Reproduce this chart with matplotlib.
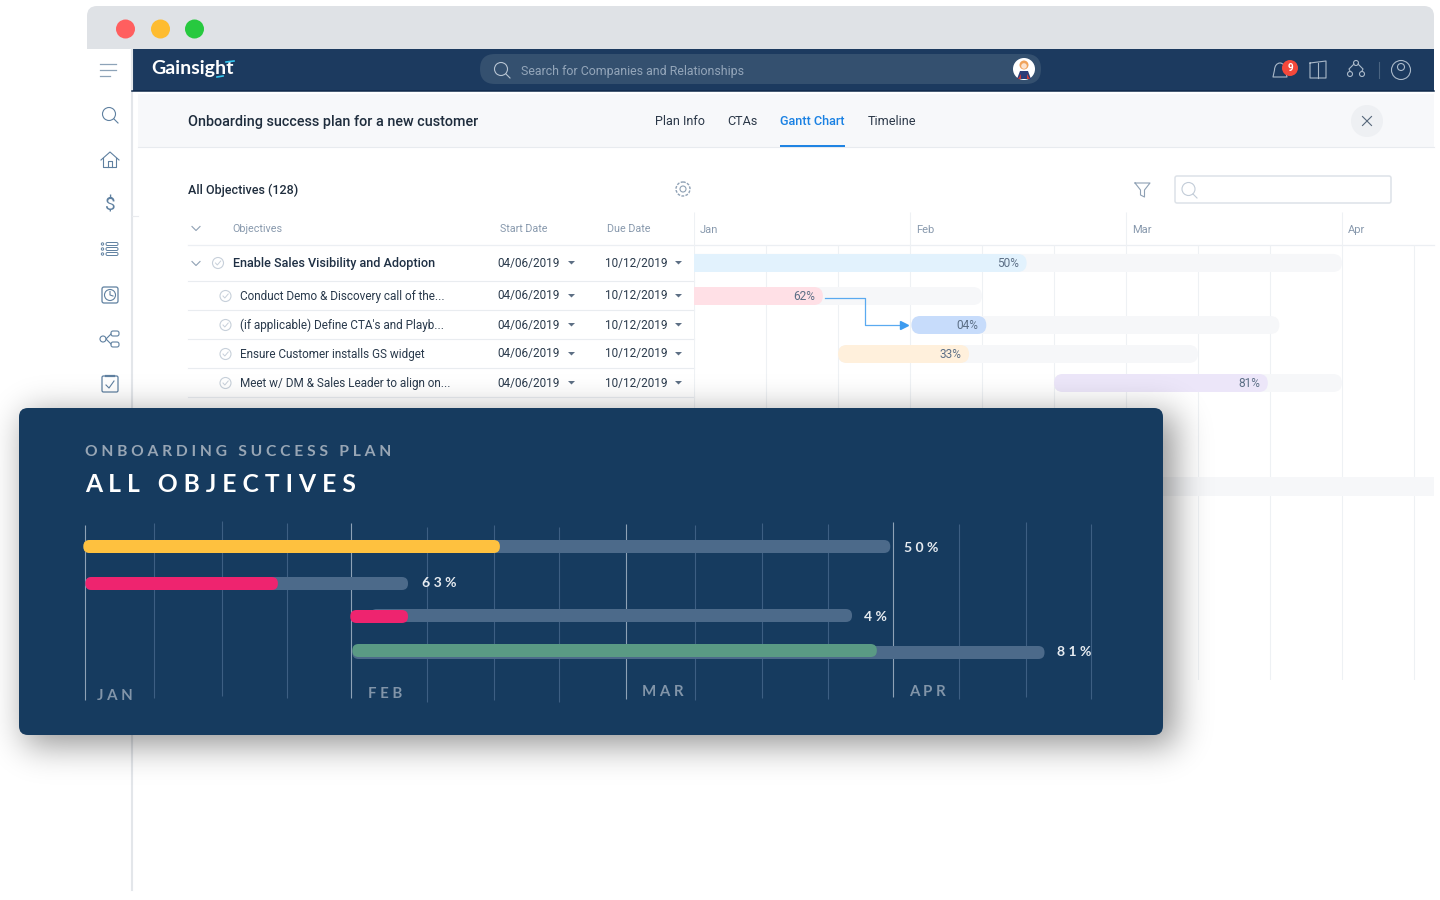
import math
import numpy as np
import matplotlib
matplotlib.use("Agg")
import matplotlib.pyplot as plt
from matplotlib.patches import FancyBboxPatch, Circle, Polygon, Rectangle, Arc

# ---------- data ----------
row_names = ["Enable Sales Visibility and Adoption", "Conduct Demo & Discovery call of the...",
             "(if applicable) Define CTA's and Playb...", "Ensure Customer installs GS widget",
             "Meet w/ DM & Sales Leader to align on..."]
start_dates = ["04/06/2019"] * 5
due_dates = ["10/12/2019"] * 5
gantt_months = ["Jan", "Feb", "Mar", "Apr"]
gantt_labels = ["50%", "62%", "04%", "33%", "81%"]
# gantt values are measured in calendar columns (three per month)
gantt_start = [0.0, 0.0, 3.02, 2.0, 5.0]
gantt_end = [9.0, 4.0, 8.13, 7.0, 9.0]
gantt_done = [4.62, 1.79, 4.06, 3.82, 7.97]
gantt_colors = ["#e2f2fd", "#ffe0e6", "#c7dcfb", "#fff0dc", "#ece6f9"]

# summary-panel values are measured in weeks from January
panel_months = ["JAN", "FEB", "MAR", "APR"]
panel_month_pos = [0.18, 4.22, 8.3, 12.28]
panel_grid = [0, 1.03, 2.03, 3.0, 3.96, 5.09, 6.09, 7.06, 8.06, 9.09, 10.09, 11.07, 12.04, 13.03, 14.03, 15.0]
panel_start = [-0.03, 0.0, 4.25, 3.98]
panel_end = [12.0, 4.81, 11.43, 14.3]
panel_done_start = [-0.03, 0.0, 3.95, 3.98]
panel_done = [6.18, 2.87, 4.81, 11.8]
panel_labels = ["50%", "63%", "4%", "81%"]
panel_colors = ["#fec13f", "#ee246f", "#ee246f", "#5a9a84"]

tabs = ["Plan Info", "CTAs", "Gantt Chart", "Timeline"]

# ---------- style ----------
FONT = ["Roboto", "DejaVu Sans"]
plt.rcParams["font.family"] = FONT
fig = plt.figure(figsize=(14.4, 9), dpi=100, facecolor="white")


def full_axes(z):
    a = fig.add_axes([0, 0, 1, 1], zorder=z)
    a.set_xlim(0, 1440)
    a.set_ylim(900, 0)
    a.axis("off")
    return a


def px_axes(x0, x1, y0, y1, z):
    a = fig.add_axes([x0 / 1440, 1 - y1 / 900, (x1 - x0) / 1440, (y1 - y0) / 900], zorder=z)
    a.patch.set_alpha(0)
    a.axis("off")
    return a


def rrect(a, x0, y0, x1, y1, r, color, z=1, ec="none", lw=0):
    p = FancyBboxPatch((x0, y0), x1 - x0, y1 - y0, boxstyle=f"round,pad=0,rounding_size={r}",
                       fc=color, ec=ec, lw=lw, zorder=z)
    a.add_patch(p)
    return p


def T(a, x, y, s, size, color, ha="left", weight="normal", family=None, z=5):
    return a.text(x, y + 1, s, fontsize=size * 0.72, color=color, ha=ha, va="center", weight=weight,
                  family=family or FONT, zorder=z)


bg = full_axes(0)
# ---------- window chrome ----------
rrect(bg, 87, 6, 1434, 60, 10, "#dfe2e6", 1)
bg.add_patch(Rectangle((87, 49), 1347, 14, fc="white", ec="none", zorder=1.5))
for cx, c in zip((125.5, 160.5, 194.5), ("#ff5f5f", "#febc30", "#27c93f")):
    bg.add_patch(Circle((cx, 29), 9.5, fc=c, ec="none", zorder=2))
bg.add_patch(Rectangle((132, 49), 1302, 42, fc="#1c3a5f", ec="none", zorder=2))
bg.plot([132, 1434], [91, 91], color="#10294a", lw=1.1, zorder=3)
bg.plot([132, 132], [49, 890], color="#e3e6ea", lw=1.5, zorder=2)
bg.plot([132, 138], [216, 216], color="#e9ebee", lw=0.8, zorder=2)
bg.add_patch(Rectangle((138, 94), 1296, 53, fc="#f7f8fa", ec="none", zorder=2))
bg.plot([138, 1434], [147, 147], color="#e8ebef", lw=0.8, zorder=3)

# logo and search
T(bg, 151.5, 67.5, "Gainsight", 19.5, "white", weight="bold", family=["Lato", "DejaVu Sans"])
bg.plot([226, 234], [62, 61], color="#35c6ef", lw=1.2, zorder=6)
bg.plot([217, 223], [77, 76], color="#35c6ef", lw=1.2, zorder=6)
rrect(bg, 480, 54, 1041, 84, 15, "#34506f", 3)
bg.add_patch(Circle((501, 69), 6.5, fc="none", ec="#b7c4d2", lw=0.8, zorder=4))
bg.plot([506, 510], [74, 78], color="#b7c4d2", lw=0.8, zorder=4)
T(bg, 521, 70, "Search for Companies and Relationships", 12.4, "#94a6ba")
bg.add_patch(Circle((1024, 69), 11, fc="white", ec="none", zorder=4))
bg.add_patch(Circle((1024, 65), 4.5, fc="#f0a35a", ec="none", zorder=5))
bg.add_patch(Circle((1024, 66), 2.8, fc="#fbe3cf", ec="none", zorder=5.5))
bg.add_patch(Polygon([(1017, 79), (1031, 79), (1028, 71), (1020, 71)], fc="#2b3d78", ec="none", zorder=5))
bg.add_patch(Polygon([(1018, 79), (1021, 79), (1021, 74)], fc="#c83a3a", ec="none", zorder=5.5))
bg.add_patch(Polygon([(1030, 79), (1027, 79), (1027, 74)], fc="#c83a3a", ec="none", zorder=5.5))

# header icons
ICON = "#aab9c9"
bg.add_patch(Arc((1280, 70), 11, 14, theta1=180, theta2=360, color=ICON, lw=0.8, zorder=4))
bg.plot([1274.5, 1273, 1287, 1285.5], [70, 77, 77, 70], color=ICON, lw=0.8, zorder=4)
bg.add_patch(Circle((1290, 68), 8, fc="#f4483b", ec="none", zorder=5))
T(bg, 1290, 67, "9", 10, "white", ha="center", weight="bold", z=6)
bg.plot([1310, 1310, 1326, 1326, 1310], [63, 78, 78, 61, 63], color=ICON, lw=0.8, zorder=4)
bg.plot([1318, 1318], [63, 78], color=ICON, lw=0.8, zorder=4)
for cx, cy, r in ((1356, 63, 2.5), (1350, 74, 2.5), (1362, 74, 2.5)):
    bg.add_patch(Circle((cx, cy), r, fc="none", ec=ICON, lw=0.8, zorder=4))
bg.plot([1354, 1349, 1350], [64, 69, 71], color=ICON, lw=0.8, zorder=4)
bg.plot([1358, 1363, 1362], [64, 69, 71], color=ICON, lw=0.8, zorder=4)
bg.plot([1379, 1379], [62, 78], color="#4a6482", lw=0.8, zorder=4)
bg.add_patch(Circle((1401, 70), 9.5, fc="none", ec=ICON, lw=0.8, zorder=4))
bg.add_patch(Circle((1401, 67), 3.5, fc="none", ec=ICON, lw=0.8, zorder=4))

# sidebar icons
SIDE = "#5f80a0"
for y, w in ((64, 16), (70, 16), (76, 10)):
    bg.plot([100, 100 + w], [y, y], color="#8da3b8", lw=0.9, zorder=3)
bg.add_patch(Circle((109, 114), 6.5, fc="none", ec=SIDE, lw=0.8, zorder=3))
bg.plot([114, 118], [119, 123], color=SIDE, lw=0.8, zorder=3)
bg.plot([101, 110, 119], [160, 152, 160], color=SIDE, lw=0.8, zorder=3)
bg.plot([103, 103, 116, 116], [158, 167, 167, 158], color=SIDE, lw=0.8, zorder=3)
bg.plot([108, 108, 112, 112], [167, 161, 161, 167], color=SIDE, lw=0.8, zorder=3)
T(bg, 110, 205, "$", 19, SIDE, ha="center")
for yy in (244, 249, 254):
    rrect(bg, 106, yy - 1.5, 118, yy + 1.5, 1.4, "none", 3, ec=SIDE, lw=0.7)
    bg.add_patch(Circle((102.5, yy), 1.2, fc="none", ec=SIDE, lw=0.7, zorder=3))
rrect(bg, 102, 287, 118, 303, 2, "none", 3, ec=SIDE, lw=0.9)
bg.add_patch(Circle((110, 295), 5.5, fc="none", ec=SIDE, lw=0.8, zorder=3))
bg.plot([110, 110, 113], [291.5, 295, 296], color=SIDE, lw=0.8, zorder=3)
bg.add_patch(Circle((103, 339), 3, fc="none", ec=SIDE, lw=0.8, zorder=3))
rrect(bg, 111, 331, 119, 336, 2, "none", 3, ec=SIDE, lw=0.8)
rrect(bg, 111, 342, 119, 347, 2, "none", 3, ec=SIDE, lw=0.8)
bg.plot([111, 106, 111], [334, 339, 344], color=SIDE, lw=0.8, zorder=3)
rrect(bg, 102, 376, 118, 392, 1.5, "none", 3, ec=SIDE, lw=0.9)
bg.plot([106, 109, 114], [385, 388, 381], color=SIDE, lw=0.8, zorder=3)
bg.plot([106, 114], [376, 376], color=SIDE, lw=1.6, zorder=3)

# page heading and tabs
T(bg, 187.5, 121, "Onboarding success plan for a new customer", 14.35, "#1f2d3d", weight="medium")
for x, s in zip((655, 727.5, 780, 868), tabs):
    T(bg, x, 120.5, s, 12.6, "#1a81e3" if s == "Gantt Chart" else "#2b3848",
      weight="medium" if s == "Gantt Chart" else "normal")
bg.plot([780, 845], [146, 146], color="#1a81e3", lw=1.4, zorder=4, solid_capstyle="butt")
bg.add_patch(Circle((1367, 121), 16, fc="#eef0f3", ec="none", zorder=3))
bg.plot([1362.5, 1371.5], [116.5, 125.5], color="#56677a", lw=0.8, zorder=4)
bg.plot([1362.5, 1371.5], [125.5, 116.5], color="#56677a", lw=0.8, zorder=4)

# toolbar
T(bg, 187.5, 189, "All Objectives (128)", 12.5, "#1f2d3d", weight="medium")
bg.add_patch(Circle((683, 189), 7, fc="none", ec="#8ea0b4", lw=1.0, ls=(0, (2, 1)), zorder=3))
bg.add_patch(Circle((683, 189), 3, fc="none", ec="#8ea0b4", lw=0.8, zorder=3))
bg.plot([1135, 1150, 1144.5, 1144.5, 1140.5, 1140.5, 1135], [183, 183, 190, 197, 195, 190, 183],
        color="#8ea0b4", lw=0.8, zorder=3)
rrect(bg, 1175, 176, 1391, 203, 2, "white", 3, ec="#dde2e8", lw=1.1)
bg.add_patch(Circle((1188.5, 189), 6.5, fc="none", ec="#c2ccd8", lw=0.8, zorder=4))
bg.plot([1193, 1197], [194, 198], color="#c2ccd8", lw=0.8, zorder=4)

# table
HEAD = "#8899ad"
T(bg, 232.5, 227.5, "Objectives", 10.8, HEAD)
T(bg, 500, 227.5, "Start Date", 10.8, HEAD)
T(bg, 607, 227.5, "Due Date", 10.8, HEAD)
bg.plot([192, 196, 200], [226.5, 230.5, 226.5], color="#8ea0b4", lw=0.8, zorder=3)
bg.plot([192, 196, 200], [261.5, 265.5, 261.5], color="#8ea0b4", lw=0.8, zorder=3)
bg.plot([188, 1434], [245, 245], color="#eceff3", lw=0.9, zorder=2)
for y in (281, 310, 339, 368, 397):
    bg.plot([188, 694], [y - 0.5, y - 0.5], color="#e9ecf0", lw=0.8, zorder=2)
for i, name in enumerate(row_names):
    y = 263 if i == 0 else 296 + 29 * (i - 1)
    cx = 218 if i == 0 else 225.5
    bg.add_patch(Circle((cx, y), 5.5, fc="none", ec="#c7d0da", lw=0.8, zorder=3))
    bg.plot([cx - 2.5, cx - 0.7, cx + 2.7], [y, y + 2, y - 2], color="#c7d0da", lw=0.7, zorder=3)
    T(bg, 232.7 if i == 0 else 240, y - 0.6, name, 12.6 if i == 0 else 11.7, "#1f3044" if i == 0 else "#2a3a4c",
      weight="medium" if i == 0 else "normal")
    T(bg, 497.7, y - 1, start_dates[i], 11.8, "#2a3a4c")
    T(bg, 604.7, y - 1, due_dates[i], 11.8, "#2a3a4c")
    for tx in (571.5, 678.5):
        bg.add_patch(Polygon([(tx - 3.5, y - 2), (tx + 3.5, y - 2), (tx, y + 1.5)], fc="#5d6f84", ec="none", zorder=3))

# ---------- gantt chart ----------
COL = 72.0
ROW = 29.0
GX0, GX1, GY0, GY1 = 694, 1434, 212, 680
g = px_axes(GX0, GX1, GY0, GY1, 1)
g.set_xlim(0, (GX1 - GX0) / COL)
g.set_ylim((GY1 - 267) / ROW, (GY0 - 267) / ROW)
g_aspect = COL / ROW


def gy(px):
    return (px - 267) / ROW


def pill(a, x0, x1, y, h, r, aspect, color, z, flat_left=False):
    if flat_left:
        x0 -= 2 * r
    p = FancyBboxPatch((x0, y - h / 2), x1 - x0, h, boxstyle=f"round,pad=0,rounding_size={r}",
                       fc=color, ec="none", mutation_aspect=aspect, zorder=z)
    a.add_patch(p)
    return p


for k in range(0, 11):
    is_month = k % 3 == 0 and k <= 9
    top = GY0 if is_month else 245
    g.vlines(k, gy(top), gy(410 if k == 0 else GY1), color="#eef1f4", lw=0.8, zorder=1)
for k, m in enumerate(gantt_months):
    g.text(3 * k + 0.08, gy(230), m, fontsize=8, color=HEAD, va="center", ha="left", zorder=3)

ypos = [-0.138, 1, 2, 3, 4]
bar_h = 18 / ROW
r_col = 9 / COL
for i in range(5):
    flat = gantt_start[i] == 0
    pill(g, gantt_start[i], gantt_end[i], ypos[i], bar_h, r_col, g_aspect, "#f6f7f9", 2, flat)
    pill(g, gantt_start[i], gantt_done[i], ypos[i], bar_h, r_col, g_aspect, gantt_colors[i], 3, flat)
    g.text(gantt_done[i] - 0.11, ypos[i] + 0.03, gantt_labels[i], fontsize=8.6, color="#5c6f86", ha="right", va="center", zorder=4)
# dependency arrow
g.plot([gantt_done[1] + 0.03, 2.38, 2.38, gantt_start[2] - 0.1], [gy(297.5), gy(297.5), 2, 2], color="#5aaaf0", lw=0.9, zorder=4)
g.plot([gantt_start[2] - 0.11], [2], marker=">", ms=5.5, color="#3d9bef", ls="none", zorder=5)
# row hidden below the panel
g.add_patch(Rectangle((0, gy(477)), 11, gy(496) - gy(477), fc="#f6f7f9", ec="none", zorder=1))

# ---------- shadow and panel ----------
sh = full_axes(2)
sh.patch.set_alpha(0)
erf = np.vectorize(math.erf)
xs = np.arange(1440) + 0.5
ys = np.arange(900) + 0.5


def box(v, a, b, s):
    return 0.5 * (erf((v - a) / (s * 2 ** 0.5)) - erf((v - b) / (s * 2 ** 0.5)))


alpha = 0.42 * np.outer(box(ys, 414, 745, 17), box(xs, 25, 1175, 17))
rgba = np.zeros((900, 1440, 4))
rgba[..., 3] = alpha
sh.imshow(rgba, extent=(0, 1440, 900, 0), aspect="auto", zorder=0, interpolation="nearest")
sh.set_xlim(0, 1440)
sh.set_ylim(900, 0)
rrect(sh, 19, 408, 1163, 735, 9, "#163b5f", 2)

WK = 67.07
PY = 35.0
PX0, PX1, PY0, PY1 = 19, 1163, 408, 735
X_ZERO, Y_ZERO = 85.4, 546.5
pa = px_axes(PX0, PX1, PY0, PY1, 3)
pa.set_xlim((PX0 - X_ZERO) / WK, (PX1 - X_ZERO) / WK)
pa.set_ylim((PY1 - Y_ZERO) / PY, (PY0 - Y_ZERO) / PY)
p_aspect = WK / PY


def py(px):
    return (px - Y_ZERO) / PY


grid_top = [525, 522.7, 521, 522.7, 522.7, 526.7, 525, 526.7, 524, 525, 523, 524, 522, 524, 522, 524]
grid_bot = [700, 697.7, 696, 697.7, 697.7, 701.7, 700, 701.7, 699, 700, 698, 698.7, 696.7, 698.7, 696.7, 698.7]
for k, x in enumerate(panel_grid):
    month = k % 4 == 0 and k < 15
    pa.vlines(x, py(grid_top[k]), py(grid_bot[k]), color="#8ea2b6" if month else "#3d5f83", lw=0.8, zorder=1)

track_y = [546.5, 583.5, 615.5, 652.5]
done_y = [546.5, 583.5, 616.5, 650.5]
h = 13 / PY
r_wk = 6.2 / WK
for i in range(4):
    pill(pa, panel_start[i], panel_end[i], py(track_y[i]), h, r_wk, p_aspect, "#4c6a8a", 2)
    pill(pa, panel_done_start[i], panel_done[i], py(done_y[i]), h, r_wk, p_aspect, panel_colors[i], 3)

PF = ["Lato", "DejaVu Sans"]


def spaced(s):
    return " ".join(s)


label_x = [904, 422, 864, 1057]
label_y = [548, 583, 617, 652]
for i in range(4):
    pa.text((label_x[i] - X_ZERO) / WK, py(label_y[i]), spaced(panel_labels[i]), fontsize=10.1, color="#e6ebf0",
            family=PF, weight="bold", ha="left", va="center", zorder=5)
month_y = [695.5, 693.5, 692.5, 692.5]
for i, m in enumerate(panel_months):
    pa.text(panel_month_pos[i], py(month_y[i]), spaced(m), fontsize=10.8, color="#8295a9", family=PF,
            weight="bold", ha="left", va="center", zorder=5)
pa.text((85 - X_ZERO) / WK, py(452.5), "O N B O A R D I N G   S U C C E S S   P L A N", fontsize=11.25, color="#98a6b5",
        family=PF, weight="bold", ha="left", va="center", zorder=5)
pa.text((85 - X_ZERO) / WK, py(484), "A L L   O B J E C T I V E S", fontsize=17.7, color="white",
        family=PF, weight="bold", ha="left", va="center", zorder=5)

fig.savefig("out.png", dpi=100, facecolor="white")
